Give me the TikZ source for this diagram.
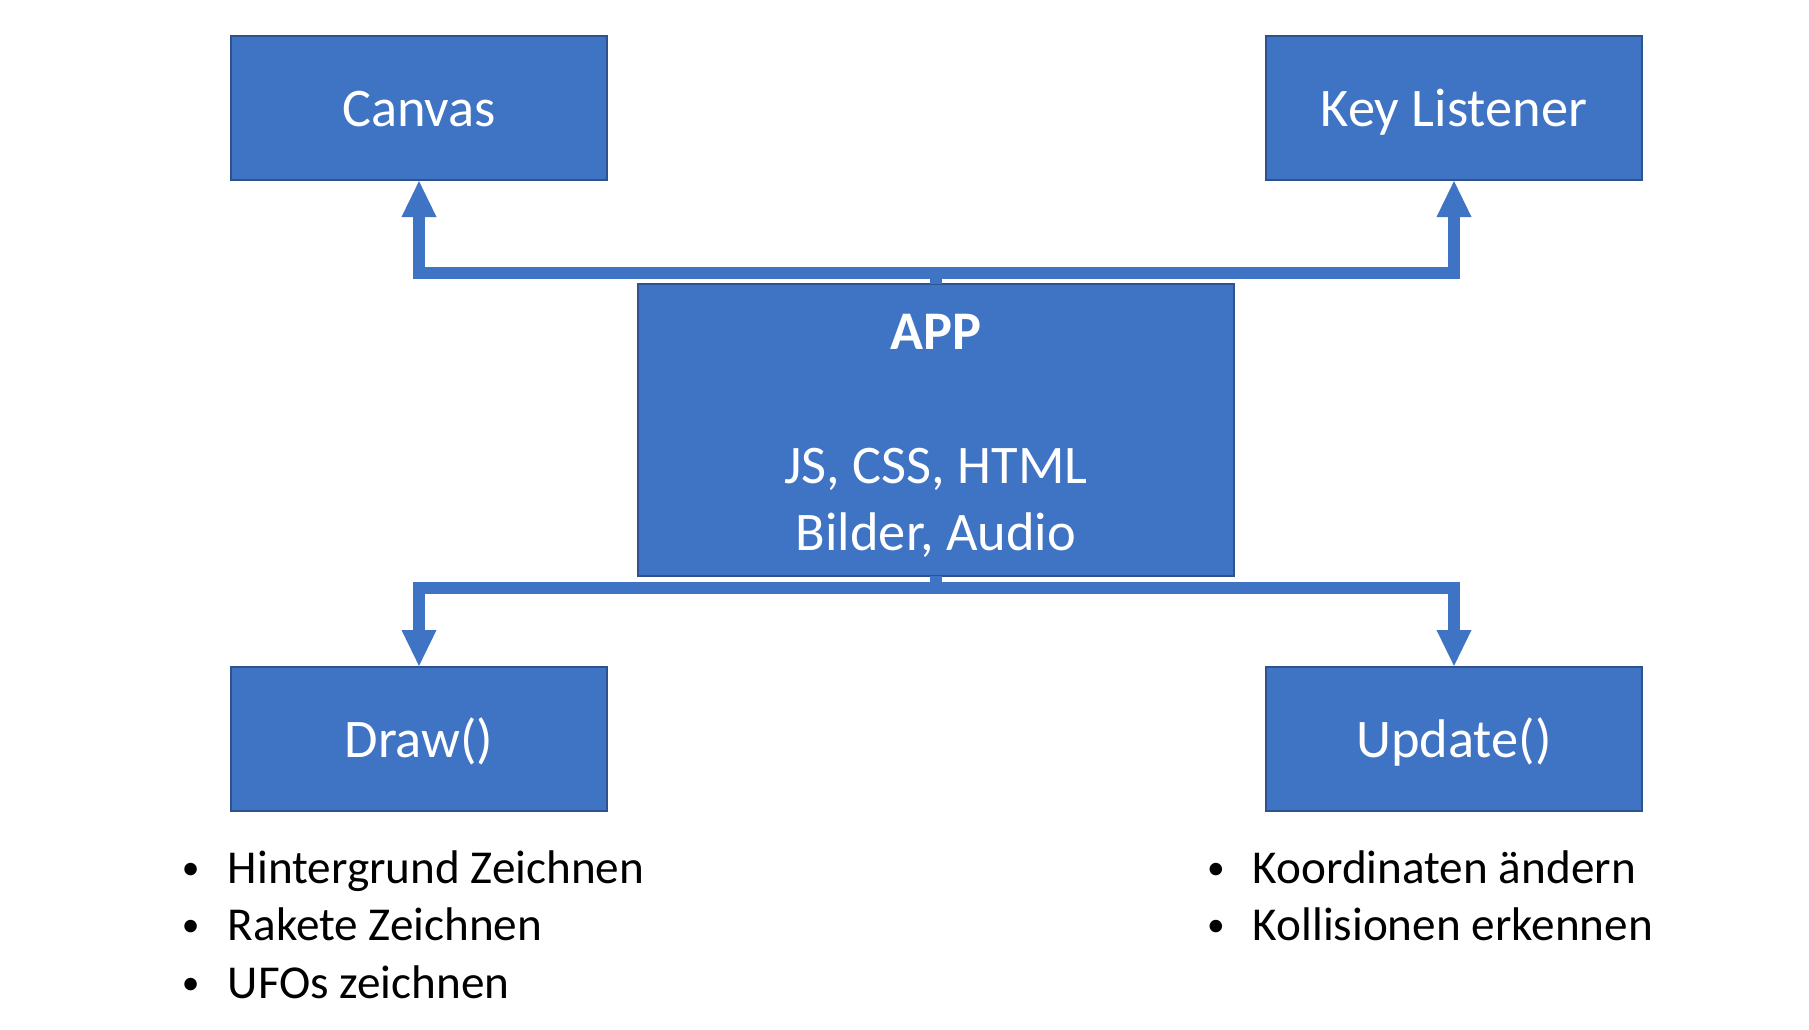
\documentclass[tikz,border=0pt]{standalone}
\usepackage{fontspec}
\setmainfont{Carlito}
\usetikzlibrary{arrows.meta, positioning}
\definecolor{boxblue}{HTML}{3F73C3}
\definecolor{boxedge}{HTML}{2F528F}
\newcommand{\bulletitem}[1]{\llap{\makebox[18.5pt][c]{\raisebox{0.08em}{\scalebox{0.75}{\textbullet}}}}#1}

\begin{document}
\begin{tikzpicture}[>={Triangle[width=8pt, length=9.25pt]}, x=0.25pt, y=-0.25pt, node distance=121.75pt and 164.75pt]
        \useasboundingbox (0,0) rectangle (1809,1029);
        \tikzstyle{every node}=[rectangle, draw=boxedge, line width=0.6pt, fill=boxblue, text=white, outer sep=0pt, minimum width=94pt, minimum height=36pt, text height=0.93em, text depth=0pt, font=\fontsize{13.6}{16.75}\selectfont]

        % Boxes
        \node (canvas) at (419,108) {Canvas};
        \node (keys) [right=of canvas] {Key Listener};
        \node (draw) [below=of canvas] {Draw()};
        \node (update) [below=of keys] {Update()};
        \node[minimum width=149pt, minimum height=73pt, text height=62pt, text depth=1.8pt, align=center] (app) at (936,430) {\textbf{APP}\\[16.75pt]JS, CSS, HTML\\Bilder, Audio};

        % Connectors
        \tikzstyle{every node}=[]
        \tikzstyle{link}=[draw=boxblue, line width=3pt, ->]

        \draw[link] (app.north) -- ++(0,-11) -| (canvas.south);
        \draw[link] (app.north) -- ++(0,-11) -| (keys.south);
        \draw[link] (app.south) -- ++(0,12) -| (draw.north);
        \draw[link] (app.south) -- ++(0,12) -| (update.north);

        % Lists
        \tikzstyle{every node}=[anchor=base west, inner sep=0pt, font=\fontsize{11.8}{14.4}\selectfont]
        \node (hintergrund) at (227,883) {\bulletitem{Hintergrund Zeichnen}};
        \node (rakete) at (227,940) {\bulletitem{Rakete Zeichnen}};
        \node (ufos) at (227,998) {\bulletitem{UFOs zeichnen}};
        \node (koord) at (1252,883) {\bulletitem{Koordinaten ändern}};
        \node (koll) at (1252,940) {\bulletitem{Kollisionen erkennen}};

      \end{tikzpicture}
\end{document}
